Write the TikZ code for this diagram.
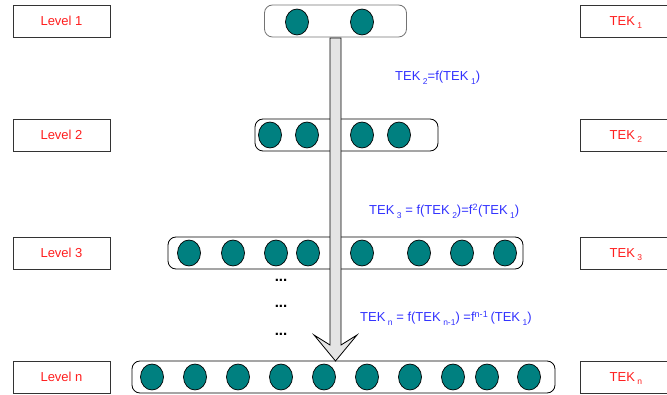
\documentclass[tikz,border=0pt]{standalone}
\usepackage{fontspec}
\setmainfont{Liberation Sans}
\usetikzlibrary{shapes.geometric}
\definecolor{teal1}{RGB}{0,128,128}
\definecolor{lblred}{RGB}{255,30,30}
\definecolor{lblblue}{RGB}{50,50,255}
\definecolor{arrgray}{RGB}{228,228,228}
\newcommand{\sbs}[1]{\hspace{2.5pt}\raisebox{-3.5pt}{\fontsize{8.5}{9}\selectfont #1}}
\newcommand{\sps}[1]{\textsuperscript{#1}}
\begin{document}
\begin{tikzpicture}[x=1pt,y=-1pt,
  lvlbox/.style={draw=black!80,line width=0.8pt,minimum width=97pt,minimum height=32pt,inner sep=0pt,text=lblred,font=\fontsize{13}{15}\selectfont},
  tekbox/.style={draw=black!80,line width=0.8pt,minimum width=100pt,minimum height=32pt,inner sep=0pt,text=lblred,text depth=0pt,font=\fontsize{13}{15}\selectfont},
  groupbox/.style={draw=black,line width=0.8pt,rounded corners=8pt,inner sep=0pt,minimum height=32pt},
  dot/.style={ellipse,draw=black,line width=0.7pt,fill=teal1,minimum width=23pt,minimum height=26pt,inner sep=0pt},
  formula/.style={text=lblblue,font=\fontsize{13}{15}\selectfont,inner sep=0pt,anchor=west},
  dots/.style={font=\fontsize{15}{16}\selectfont\bfseries,inner sep=0pt}
]
\useasboundingbox (0,0) rectangle (667,395);
\begin{scope}
\clip (0,0) rectangle (667,395);
% level boxes
\node[lvlbox] (L1) at (61.5,21) {Level 1};
\node[lvlbox] (L2) at (61.5,135) {Level 2};
\node[lvlbox] (L3) at (61.5,253) {Level 3};
\node[lvlbox] (Ln) at (61.5,377) {Level n};
% tek boxes
\node[tekbox,anchor=west] (T1) at (579.5,21) {\hspace*{-8pt}TEK\sbs{1}};
\node[tekbox,anchor=west] (T2) at (579.5,135) {\hspace*{-8pt}TEK\sbs{2}};
\node[tekbox,anchor=west] (T3) at (579.5,253) {\hspace*{-8pt}TEK\sbs{3}};
\node[tekbox,anchor=west] (Tn) at (579.5,377) {\hspace*{-8pt}TEK\sbs{n}};
\end{scope}
% group boxes
\node[groupbox,draw=black!55,minimum width=142pt] (G1) at (335.5,21) {};
\node[groupbox,minimum width=183pt] (G2) at (346.5,135) {};
\node[groupbox,minimum width=355pt] (G3) at (345.5,253) {};
\node[groupbox,minimum width=423pt] (Gn) at (343.5,377) {};
% arrow
\path[draw=black,line width=0.8pt,fill=arrgray]
  (330,38) -- (330,345) -- (314,335) -- (335.5,361) -- (357,335) -- (341,345) -- (341,38) -- cycle;
% dots
\foreach \x [count=\i] in {297,362}
  \node[dot] (a\i) at (\x,22) {};
\foreach \x [count=\i] in {270,307,362,399}
  \node[dot] (b\i) at (\x,135) {};
\foreach \x [count=\i] in {189,233,276,308,362,419,462,505}
  \node[dot] (c\i) at (\x,253) {};
\foreach \x [count=\i] in {152,195,238,281,324,367,410,453,487,529}
  \node[dot] (d\i) at (\x,377) {};
% ellipsis
\node[dots] (e1) at (281,280) {...};
\node[dots] (e2) at (281,306) {...};
\node[dots] (e3) at (281,334) {...};
% formulas
\node[formula] (f1) at (395,78) {TEK\sbs{2}=f(TEK\sbs{1})};
\node[formula] (f2) at (369,211) {TEK\sbs{3} = f(TEK\sbs{2})=f\sps{2}(TEK\sbs{1})};
\node[formula] (f3) at (360,318) {TEK\sbs{n} = f(TEK\sbs{n-1}) =f\sps{n-1}\,(TEK\sbs{1})};
\end{tikzpicture}
\end{document}
